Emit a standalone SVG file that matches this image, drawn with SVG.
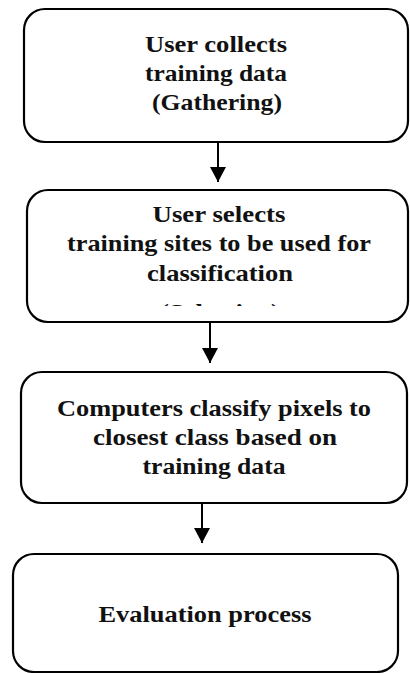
<svg xmlns="http://www.w3.org/2000/svg" width="410" height="673" viewBox="0 0 410 673">
<defs>
<style>
.box{fill:#fff;stroke:#000;stroke-width:2.2}
.t{font-family:"Liberation Serif","Times New Roman",serif;font-weight:bold;font-size:23px;fill:#111;text-anchor:middle}
.c{stroke:#000;stroke-width:2;fill:none}
</style>
<marker id="ah" markerWidth="8" markerHeight="8" refX="7.5" refY="4" orient="auto" markerUnits="strokeWidth">
<path d="M0,0 L7.5,4 L0,8 Z" fill="#000"/>
</marker>
<clipPath id="clip2"><rect x="27" y="190" width="381" height="116"/></clipPath>
</defs>
<g id="connectors">
<line class="c" x1="218" y1="142" x2="218" y2="182" marker-end="url(#ah)"/>
<line class="c" x1="210" y1="322" x2="210" y2="363" marker-end="url(#ah)"/>
<line class="c" x1="202" y1="503" x2="202" y2="543" marker-end="url(#ah)"/>
</g>
<g id="node1">
<rect class="box" x="24" y="9" width="384" height="133" rx="21"/>
<text class="t" x="216" y="52" textLength="142" lengthAdjust="spacingAndGlyphs">User collects</text>
<text class="t" x="216" y="81" textLength="142" lengthAdjust="spacingAndGlyphs">training data</text>
<text class="t" x="217" y="110" textLength="130" lengthAdjust="spacingAndGlyphs">(Gathering)</text>
</g>
<g id="node2">
<rect class="box" x="27" y="190" width="381" height="132" rx="21"/>
<text class="t" x="219" y="222" textLength="133" lengthAdjust="spacingAndGlyphs">User selects</text>
<text class="t" x="219" y="251" textLength="304" lengthAdjust="spacingAndGlyphs">training sites to be used for</text>
<text class="t" x="220" y="281" textLength="146" lengthAdjust="spacingAndGlyphs">classification</text>
<text class="t" x="220" y="320" clip-path="url(#clip2)" textLength="120" lengthAdjust="spacingAndGlyphs">(Selection)</text>
</g>
<g id="node3">
<rect class="box" x="21" y="372" width="386" height="131" rx="21"/>
<text class="t" x="214" y="416" textLength="314" lengthAdjust="spacingAndGlyphs">Computers classify pixels to</text>
<text class="t" x="215" y="445" textLength="244" lengthAdjust="spacingAndGlyphs">closest class based on</text>
<text class="t" x="214" y="474" textLength="143" lengthAdjust="spacingAndGlyphs">training data</text>
</g>
<g id="node4">
<rect class="box" x="13" y="554" width="385" height="118" rx="21"/>
<text class="t" x="205" y="622" textLength="213" lengthAdjust="spacingAndGlyphs">Evaluation process</text>
</g>
</svg>
